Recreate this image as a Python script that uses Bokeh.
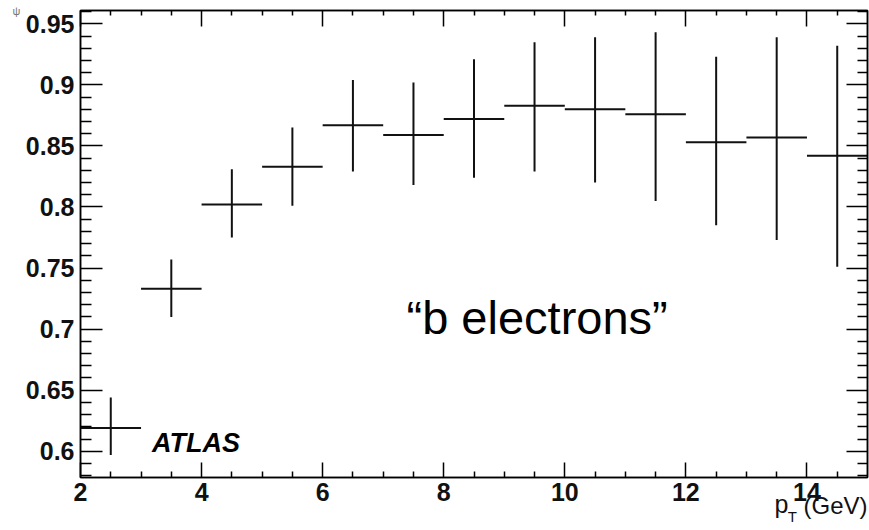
from bokeh.plotting import figure
from bokeh.models import (Range1d, LinearAxis, FixedTicker, Label, ColumnDataSource,
                          CustomLabelingPolicy, Title)
from bokeh.embed import file_html
from bokeh.resources import INLINE

# ---- data ----
pt_center = [2.5, 3.5, 4.5, 5.5, 6.5, 7.5, 8.5, 9.5, 10.5, 11.5, 12.5, 13.5, 14.5]
pt_halfwidth = [0.5, 0.5, 0.5, 0.5, 0.5, 0.5, 0.5, 0.5, 0.5, 0.5, 0.5, 0.5, 0.5]
eff = [0.619, 0.733, 0.802, 0.833, 0.867, 0.859, 0.872, 0.883, 0.880, 0.876, 0.853, 0.857, 0.842]
eff_up = [0.644, 0.757, 0.831, 0.865, 0.904, 0.902, 0.921, 0.935, 0.939, 0.943, 0.923, 0.939, 0.932]
eff_down = [0.597, 0.710, 0.775, 0.801, 0.829, 0.818, 0.824, 0.829, 0.820, 0.805, 0.785, 0.773, 0.751]

x_major_ticks = [2, 4, 6, 8, 10, 12, 14]
x_tick_labels = ["2", "4", "6", "8", "10", "12", "14"]
x_minor_ticks = [2.5, 3, 3.5, 4.5, 5, 5.5, 6.5, 7, 7.5, 8.5, 9, 9.5,
                 10.5, 11, 11.5, 12.5, 13, 13.5, 14.5]
y_major_ticks = [0.6, 0.65, 0.7, 0.75, 0.8, 0.85, 0.9, 0.95]
y_tick_labels = ["0.6", "0.65", "0.7", "0.75", "0.8", "0.85", "0.9", "0.95"]
y_minor_ticks = [0.58, 0.59, 0.61, 0.62, 0.63, 0.64, 0.66, 0.67, 0.68, 0.69,
                 0.71, 0.72, 0.73, 0.74, 0.76, 0.77, 0.78, 0.79, 0.81, 0.82,
                 0.83, 0.84, 0.86, 0.87, 0.88, 0.89, 0.91, 0.92, 0.93, 0.94, 0.96]

x_title_main = "p"
x_title_sub = "T"
x_title_unit = "(GeV)"
y_title = "\u03c8"

x_lo = [c - h for c, h in zip(pt_center, pt_halfwidth)]
x_hi = [c + h for c, h in zip(pt_center, pt_halfwidth)]
src = ColumnDataSource(dict(x=pt_center, y=eff, up=eff_up, down=eff_down, xl=x_lo, xh=x_hi))

FONT = "Liberation Sans"

p = figure(width=869, height=530,
           x_range=Range1d(2, 15), y_range=Range1d(0.5785, 0.9609),
           output_backend="svg", toolbar_location=None,
           min_border_left=80, min_border_right=2, min_border_top=10, min_border_bottom=53)
p.background_fill_color = "white"
p.border_fill_color = "white"
p.xgrid.visible = False
p.ygrid.visible = False
p.outline_line_color = "black"
p.outline_line_width = 1.5

bottom_axis = p.below[0]
left_axis = p.left[0]
top_axis = LinearAxis()
right_axis = LinearAxis()
p.add_layout(top_axis, "above")
p.add_layout(right_axis, "right")


def style_axis(ax, ticks, minor, labels, major_in, minor_in, show_labels):
    ax.ticker = FixedTicker(ticks=ticks, minor_ticks=minor)
    ax.major_tick_in = major_in
    ax.major_tick_out = 0
    ax.minor_tick_in = minor_in
    ax.minor_tick_out = 0
    ax.major_tick_line_color = "black"
    ax.major_tick_line_width = 1.5
    ax.minor_tick_line_color = "black"
    ax.minor_tick_line_width = 1.5
    ax.axis_line_color = "black"
    ax.axis_line_width = 1.5
    if show_labels:
        ax.major_label_overrides = {t: l for t, l in zip(ticks, labels)}
        ax.major_label_text_font = FONT
        ax.major_label_text_font_style = "bold"
        ax.major_label_text_font_size = "25px"
        ax.major_label_text_color = "#111111"
    else:
        ax.major_label_policy = CustomLabelingPolicy(code="return []")
        ax.major_label_text_font_size = "0px"
        ax.major_label_standoff = 0


style_axis(bottom_axis, x_major_ticks, x_minor_ticks, x_tick_labels, 15, 6, True)
bottom_axis.major_label_standoff = 5
style_axis(top_axis, x_major_ticks, x_minor_ticks, x_tick_labels, 16, 5, False)
style_axis(left_axis, y_major_ticks, y_minor_ticks, y_tick_labels, 22, 11, True)
left_axis.major_label_standoff = 6
style_axis(right_axis, y_major_ticks, y_minor_ticks, y_tick_labels, 21, 10, False)

# error bars and bin-width bars
p.segment(x0="x", y0="down", x1="x", y1="up", source=src, line_color="#111111", line_width=2)
p.segment(x0="xl", y0="y", x1="xh", y1="y", source=src, line_color="#111111", line_width=2)

# texts inside the frame
p.add_layout(Label(x=7.385, y=0.7096, text="\u201cb electrons\u201d", text_font=FONT,
                   text_font_size="47px", text_color="black", text_baseline="middle",
                   text_align="left"))
p.add_layout(Label(x=3.18, y=0.6069, text="ATLAS", text_font=FONT,
                   text_font_size="27px", text_font_style="bold italic", text_color="black",
                   text_baseline="middle", text_align="left"))

# y title (truncated, top-left) as the plot title
p.title.text = y_title
p.title.align = "left"
p.title.offset = -68
p.title.standoff = -12
p.title.text_font = FONT
p.title.text_font_size = "11px"
p.title.text_font_style = "normal"
p.title.text_color = "#777777"

# x title at the right end, below the axis
p.add_layout(Title(text=x_title_main, align="right", offset=79, standoff=-28,
                   vertical_align="top", text_font=FONT, text_font_size="25px",
                   text_font_style="normal", text_color="#111111"), "below")
p.add_layout(Title(text=x_title_unit, align="right", offset=0, standoff=-27,
                   vertical_align="top", text_font=FONT, text_font_size="24px",
                   text_font_style="normal", text_color="#111111"), "below")
p.add_layout(Title(text=x_title_sub, align="right", offset=70.5, standoff=0,
                   vertical_align="top", text_font=FONT, text_font_size="15px",
                   text_font_style="normal", text_color="#111111"), "below")

open("out.html", "w").write(file_html(p, INLINE))
